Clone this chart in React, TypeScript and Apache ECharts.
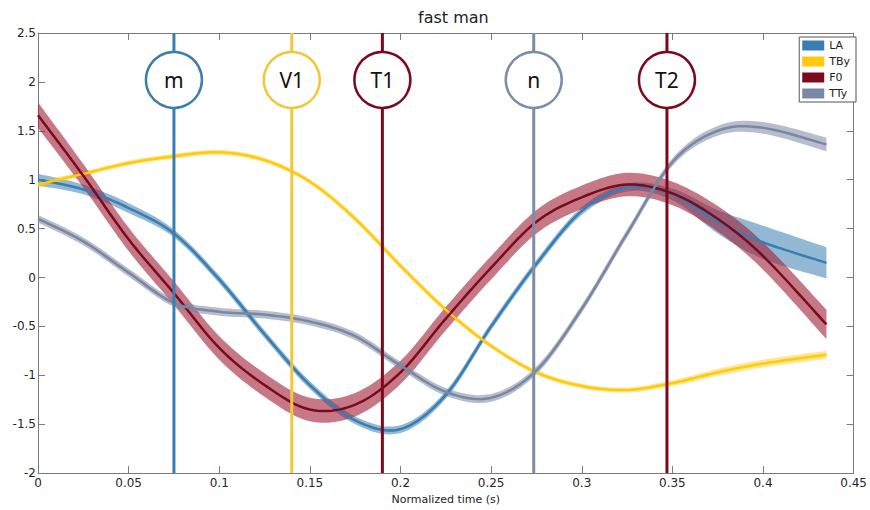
import React, { useEffect, useRef } from "react";
import * as echarts from "echarts";

const T = [0, 0.025, 0.05, 0.075, 0.1, 0.125, 0.15, 0.175, 0.2, 0.225, 0.25, 0.275, 0.3, 0.325, 0.35, 0.375, 0.4, 0.435];

const LA = [1.0, 0.9, 0.71, 0.45, -0.02, -0.58, -1.1, -1.46, -1.55, -1.2, -0.5, 0.14, 0.68, 0.92, 0.85, 0.57, 0.36, 0.15];
const LA_W = [0.06, 0.05, 0.05, 0.04, 0.04, 0.04, 0.04, 0.04, 0.04, 0.04, 0.04, 0.04, 0.04, 0.04, 0.06, 0.12, 0.17, 0.16];

const TBY = [0.95, 1.06, 1.17, 1.24, 1.28, 1.2, 0.98, 0.6, 0.12, -0.33, -0.7, -0.97, -1.11, -1.15, -1.08, -0.97, -0.88, -0.79];
const TBY_W = [0.03, 0.025, 0.025, 0.025, 0.025, 0.025, 0.025, 0.03, 0.03, 0.03, 0.025, 0.025, 0.025, 0.025, 0.03, 0.035, 0.04, 0.04];

const F0 = [1.66, 1.04, 0.39, -0.16, -0.72, -1.1, -1.35, -1.3, -0.97, -0.42, 0.1, 0.57, 0.82, 0.95, 0.86, 0.6, 0.22, -0.48];
const F0_W = [0.13, 0.12, 0.12, 0.12, 0.12, 0.12, 0.12, 0.12, 0.12, 0.12, 0.12, 0.12, 0.12, 0.12, 0.12, 0.13, 0.14, 0.15];

const TTY = [0.6, 0.37, 0.05, -0.26, -0.35, -0.38, -0.45, -0.6, -0.9, -1.17, -1.23, -0.95, -0.32, 0.45, 1.18, 1.5, 1.53, 1.36];
const TTY_W = [0.04, 0.04, 0.04, 0.04, 0.04, 0.04, 0.04, 0.04, 0.04, 0.04, 0.04, 0.04, 0.04, 0.04, 0.04, 0.05, 0.06, 0.07];

const SERIES_NAMES = ["LA", "TBy", "F0", "TTy"];
const MARKER_T = [0.075, 0.14, 0.19, 0.2735, 0.347];
const MARKER_LABELS = ["m", "V1", "T1", "n", "T2"];

const X_MIN = 0;
const X_MAX = 0.45;
const Y_MIN = -2;
const Y_MAX = 2.5;

const COLORS = ["#3A7DB1", "#FFC90E", "#7A0A1E", "#7A87A2"];
const BAND_COLORS = ["rgba(58,125,177,0.55)", "rgba(255,201,14,0.45)", "rgba(160,30,55,0.6)", "rgba(122,135,162,0.55)"];
const MARKER_COLORS = ["#3A7DB1", "#F0C93A", "#7A0A1E", "#7D8CA8", "#7A0A1E"];

// Catmull-Rom interpolation of pixel points (display only)
function spline(pts: number[][], steps = 12): number[][] {
  const out: number[][] = [];
  const n = pts.length;
  for (let i = 0; i < n - 1; i++) {
    const p0 = pts[Math.max(i - 1, 0)];
    const p1 = pts[i];
    const p2 = pts[i + 1];
    const p3 = pts[Math.min(i + 2, n - 1)];
    for (let s = 0; s < steps; s++) {
      const u = s / steps;
      const u2 = u * u;
      const u3 = u2 * u;
      const f = (a: number, b: number, c: number, d: number) =>
        0.5 * (2 * b + (-a + c) * u + (2 * a - 5 * b + 4 * c - d) * u2 + (-a + 3 * b - 3 * c + d) * u3);
      out.push([f(p0[0], p1[0], p2[0], p3[0]), f(p0[1], p1[1], p2[1], p3[1])]);
    }
  }
  out.push(pts[n - 1]);
  return out;
}

export default function App() {
  const ref = useRef<HTMLDivElement>(null);
  useEffect(() => {
    if (!ref.current) return;
    const chart = echarts.init(ref.current, undefined, { renderer: "svg" });
    const vals = [LA, TBY, F0, TTY];
    const ws = [LA_W, TBY_W, F0_W, TTY_W];

    const makeSeries = (k: number, part: "band" | "line") => ({
      type: "custom",
      name: part === "line" ? SERIES_NAMES[k] : SERIES_NAMES[k] + "_band",
      data: T.map((t, i) => [t, vals[k][i], vals[k][i] - ws[k][i], vals[k][i] + ws[k][i]]),
      itemStyle: { color: COLORS[k] },
      z: part === "band" ? 1 : 3,
      silent: true,
      renderItem: (params: any, api: any) => {
        if (params.dataIndex !== 0) return null;
        if (part === "line") {
          const pts = T.map((t, i) => api.coord([t, vals[k][i]]));
          return {
            type: "polyline",
            shape: { points: spline(pts) },
            style: { stroke: COLORS[k], lineWidth: 2.5, fill: null, lineJoin: "round" },
          };
        }
        const up = spline(T.map((t, i) => api.coord([t, vals[k][i] + ws[k][i]])));
        const lo = spline(T.map((t, i) => api.coord([t, vals[k][i] - ws[k][i]])));
        return {
          type: "polygon",
          shape: { points: up.concat(lo.reverse()) },
          style: { fill: BAND_COLORS[k], stroke: null },
        };
      },
    });

    const bandSeries = vals.map((_, k) => makeSeries(k, "band"));
    const lineSeries = vals.map((_, k) => makeSeries(k, "line"));

    const markerSeries = {
      type: "custom",
      name: "markers",
      data: MARKER_T.map((t, i) => [t, i]),
      z: 5,
      clip: false,
      silent: true,
      renderItem: (params: any, api: any) => {
        const t = api.value(0);
        const idx = api.value(1);
        const top = api.coord([t, Y_MAX]);
        const bot = api.coord([t, Y_MIN]);
        const c = api.coord([t, 2.02]);
        const color = MARKER_COLORS[idx];
        return {
          type: "group",
          children: [
            { type: "line", shape: { x1: top[0], y1: top[1], x2: bot[0], y2: bot[1] }, style: { stroke: color, lineWidth: 3 } },
            { type: "circle", shape: { cx: c[0], cy: c[1], r: 28 }, style: { fill: "#fff", stroke: color, lineWidth: 2.5 } },
            {
              type: "text",
              style: {
                text: MARKER_LABELS[idx],
                x: c[0],
                y: c[1],
                align: "center",
                verticalAlign: "middle",
                fontSize: 21,
                fontFamily: "Noto Sans",
                fill: "#111",
              },
            },
          ],
        };
      },
    };
    const axisLine = { show: true, onZero: false, lineStyle: { color: "#7a7a7a", width: 1 } };
    const axisTick = { show: true, inside: true, length: 7, lineStyle: { color: "#7a7a7a" } };
    const labelStyle = { color: "#262626", fontSize: 12, fontFamily: "DejaVu Sans" };
    chart.setOption({
      animation: false,
      title: {
        text: "fast man",
        left: 413,
        top: 4,
        textStyle: { fontSize: 16, fontWeight: "normal", color: "#222", fontFamily: "DejaVu Sans" },
      },
      legend: {
        data: SERIES_NAMES,
        orient: "vertical",
        right: 14,
        top: 37,
        icon: "rect",
        itemWidth: 22,
        itemHeight: 10,
        itemGap: 5,
        padding: [3, 6, 3, 3],
        borderColor: "#555",
        borderWidth: 1,
        backgroundColor: "#fff",
        textStyle: { fontSize: 11, color: "#222", fontFamily: "DejaVu Sans" },
        z: 10,
      },
      grid: { left: 38, right: 14, top: 33, bottom: 29 },
      xAxis: [
        {
          type: "value",
          min: X_MIN,
          max: X_MAX,
          interval: 0.05,
          name: "Normalized time (s)",
          nameLocation: "middle",
          nameGap: 20,
          nameTextStyle: { fontSize: 11, color: "#222", fontFamily: "DejaVu Sans" },
          axisLine,
          axisTick,
          splitLine: { show: false },
          axisLabel: { ...labelStyle, margin: 4 },
        },
        {
          type: "value",
          position: "top",
          min: X_MIN,
          max: X_MAX,
          interval: 0.05,
          axisLine,
          axisTick,
          splitLine: { show: false },
          axisLabel: { show: false },
        },
      ],
      yAxis: [
        {
          type: "value",
          min: Y_MIN,
          max: Y_MAX,
          interval: 0.5,
          axisLine,
          axisTick,
          splitLine: { show: false },
          axisLabel: { ...labelStyle, margin: 2 },
        },
        {
          type: "value",
          position: "right",
          min: Y_MIN,
          max: Y_MAX,
          interval: 0.5,
          axisLine,
          axisTick,
          splitLine: { show: false },
          axisLabel: { show: false },
        },
      ],
      series: [...bandSeries, ...lineSeries, markerSeries],
    });
    return () => chart.dispose();
  }, []);
  return <div ref={ref} style={{ width: 870, height: 510, position: "absolute", left: 0, top: 0, background: "#fff" }} />;
}
